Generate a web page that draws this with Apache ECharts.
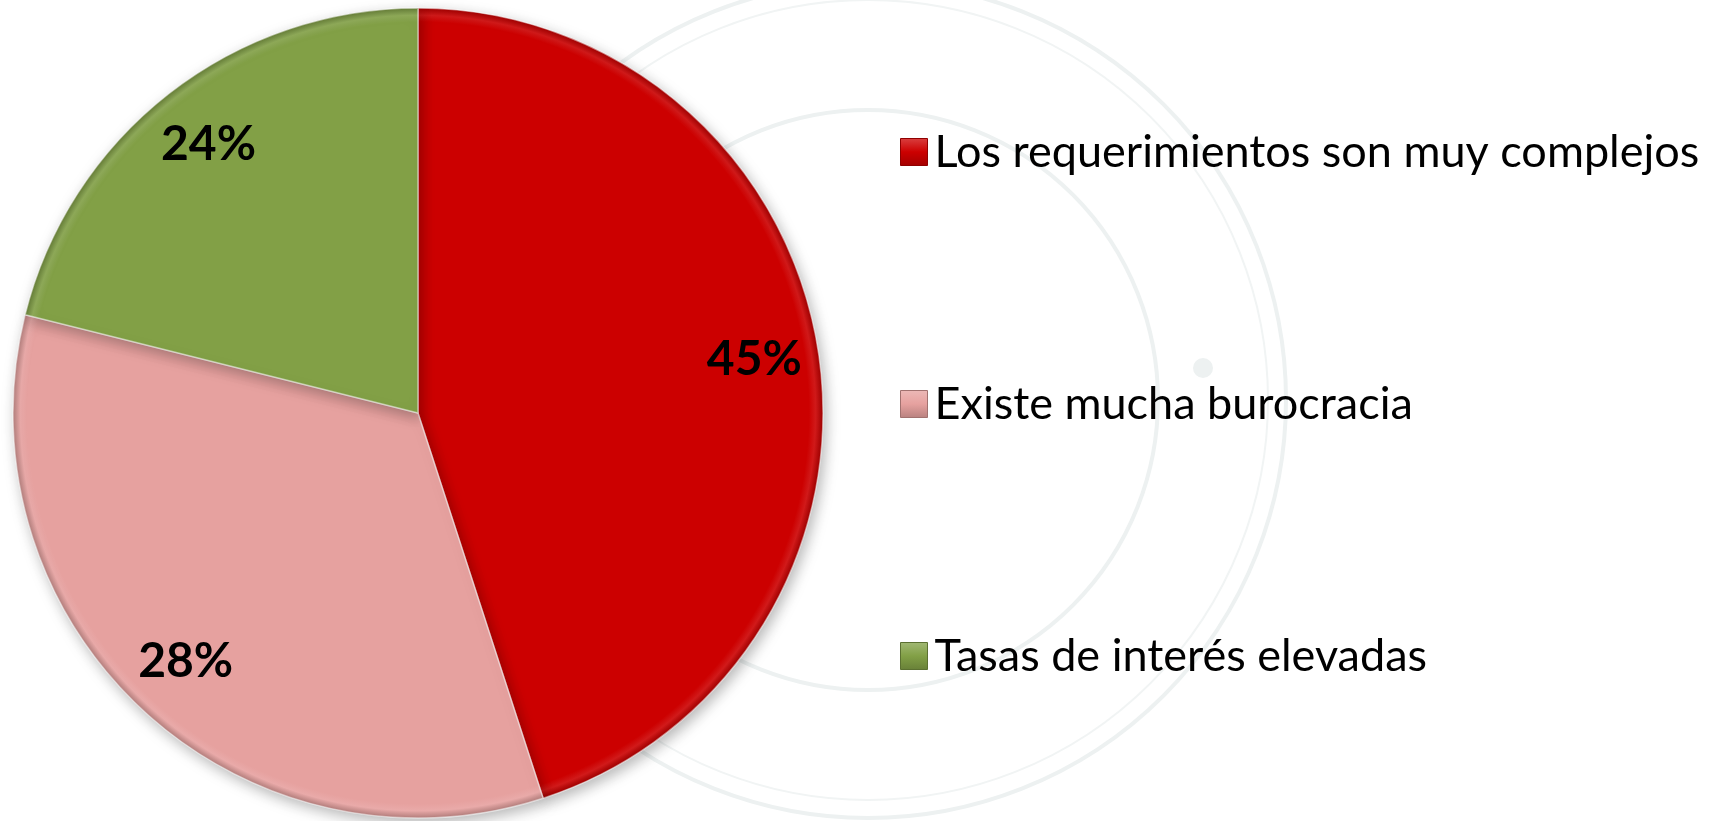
<!DOCTYPE html>
<html>
<head>
<meta charset="utf-8">
<script src="https://cdn.jsdelivr.net/npm/echarts@6/dist/echarts.min.js"></script>
<style>
html,body{margin:0;padding:0;background:#fff;}
#c{width:1715px;height:821px;}
</style>
</head>
<body>
<div id="c"></div>
<script>
// Data
const categories = ['Los requerimientos son muy complejos', 'Existe mucha burocracia', 'Tasas de interés elevadas'];
// slice shares measured from the slice angles in the picture
const shares = [45, 33.9, 21.1];
// percentage labels as printed on the slices
const labelTexts = ['45%', '28%', '24%'];
const colors = ['#CC0000', '#E6A19F', '#82A046'];

function shade(hex, f) {
  const n = parseInt(hex.slice(1), 16);
  let r = (n >> 16) & 255, g = (n >> 8) & 255, b = n & 255;
  const m = c => Math.max(0, Math.min(255, Math.round(f >= 0 ? c + (255 - c) * f : c * (1 + f))));
  return 'rgb(' + m(r) + ',' + m(g) + ',' + m(b) + ')';
}

const CX = 418, CY = 413, R = 405;

function sliceStyle(col) {
  return {
    color: {
      type: 'radial', x: CX, y: CY, r: R, global: true,
      colorStops: [
        {offset: 0, color: col},
        {offset: 0.965, color: col},
        {offset: 0.982, color: shade(col, 0.1)},
        {offset: 1, color: shade(col, -0.22)}
      ]
    },
    borderColor: 'rgba(255,255,255,0.5)',
    borderWidth: 1.5
  };
}

const chart = echarts.init(document.getElementById('c'), null, {renderer: 'canvas'});

const mainData = categories.map((c, i) => ({
  name: c, value: shares[i], itemStyle: sliceStyle(colors[i])
}));
const labelData = categories.map((c, i) => ({
  name: c, value: shares[i], label: {formatter: labelTexts[i]}
}));

const sealC = [868, 400];
chart.setOption({
  backgroundColor: '#ffffff',
  animation: false,
  graphic: [
    {type: 'circle', z: -10, silent: true, shape: {cx: sealC[0], cy: sealC[1], r: 418}, style: {fill: 'none', stroke: '#EDF1F1', lineWidth: 4}},
    {type: 'circle', z: -10, silent: true, shape: {cx: sealC[0], cy: sealC[1], r: 400}, style: {fill: 'none', stroke: '#F1F4F4', lineWidth: 2}},
    {type: 'circle', z: -10, silent: true, shape: {cx: sealC[0], cy: sealC[1], r: 290}, style: {fill: 'none', stroke: '#EDF1F1', lineWidth: 4}},
    {type: 'circle', z: -10, silent: true, shape: {cx: 1203, cy: 368, r: 10}, style: {fill: '#EDF1F1'}}
  ],
  legend: {
    orient: 'vertical',
    left: 895,
    top: 122,
    itemWidth: 27,
    itemHeight: 27,
    itemGap: 202,
    icon: 'rect',
    selectedMode: false,
    data: categories.map((c, i) => ({
      name: c,
      itemStyle: {
        color: {type: 'linear', x: 0, y: 0, x2: 0, y2: 1, colorStops: [
          {offset: 0, color: shade(colors[i], 0.25)},
          {offset: 0.5, color: colors[i]},
          {offset: 1, color: shade(colors[i], -0.2)}
        ]},
        borderColor: shade(colors[i], -0.3), borderWidth: 1
      }
    })),
    textStyle: {
      fontFamily: 'Lato',
      fontSize: 45,
      color: '#000',
      lineHeight: 50,
      padding: [0, 0, 0, 2]
    }
  },
  series: [
    {
      type: 'pie',
      center: [CX, CY],
      radius: [0, R],
      startAngle: 90,
      clockwise: true,
      silent: true,
      label: {show: false},
      labelLine: {show: false},
      itemStyle: {
        shadowBlur: 14,
        shadowColor: 'rgba(0,0,0,0.28)',
        shadowOffsetX: 3,
        shadowOffsetY: 5
      },
      data: mainData
    },
    {
      type: 'pie',
      center: [CX, CY],
      radius: [270, R],
      startAngle: 90,
      clockwise: true,
      silent: true,
      legendHoverLink: false,
      itemStyle: {color: 'rgba(0,0,0,0)', borderWidth: 0},
      label: {
        show: true,
        position: 'inside',
        fontFamily: 'Lato',
        fontWeight: 'bold',
        fontSize: 48,
        color: '#000'
      },
      labelLine: {show: false},
      data: labelData
    }
  ]
});
</script>
</body>
</html>
